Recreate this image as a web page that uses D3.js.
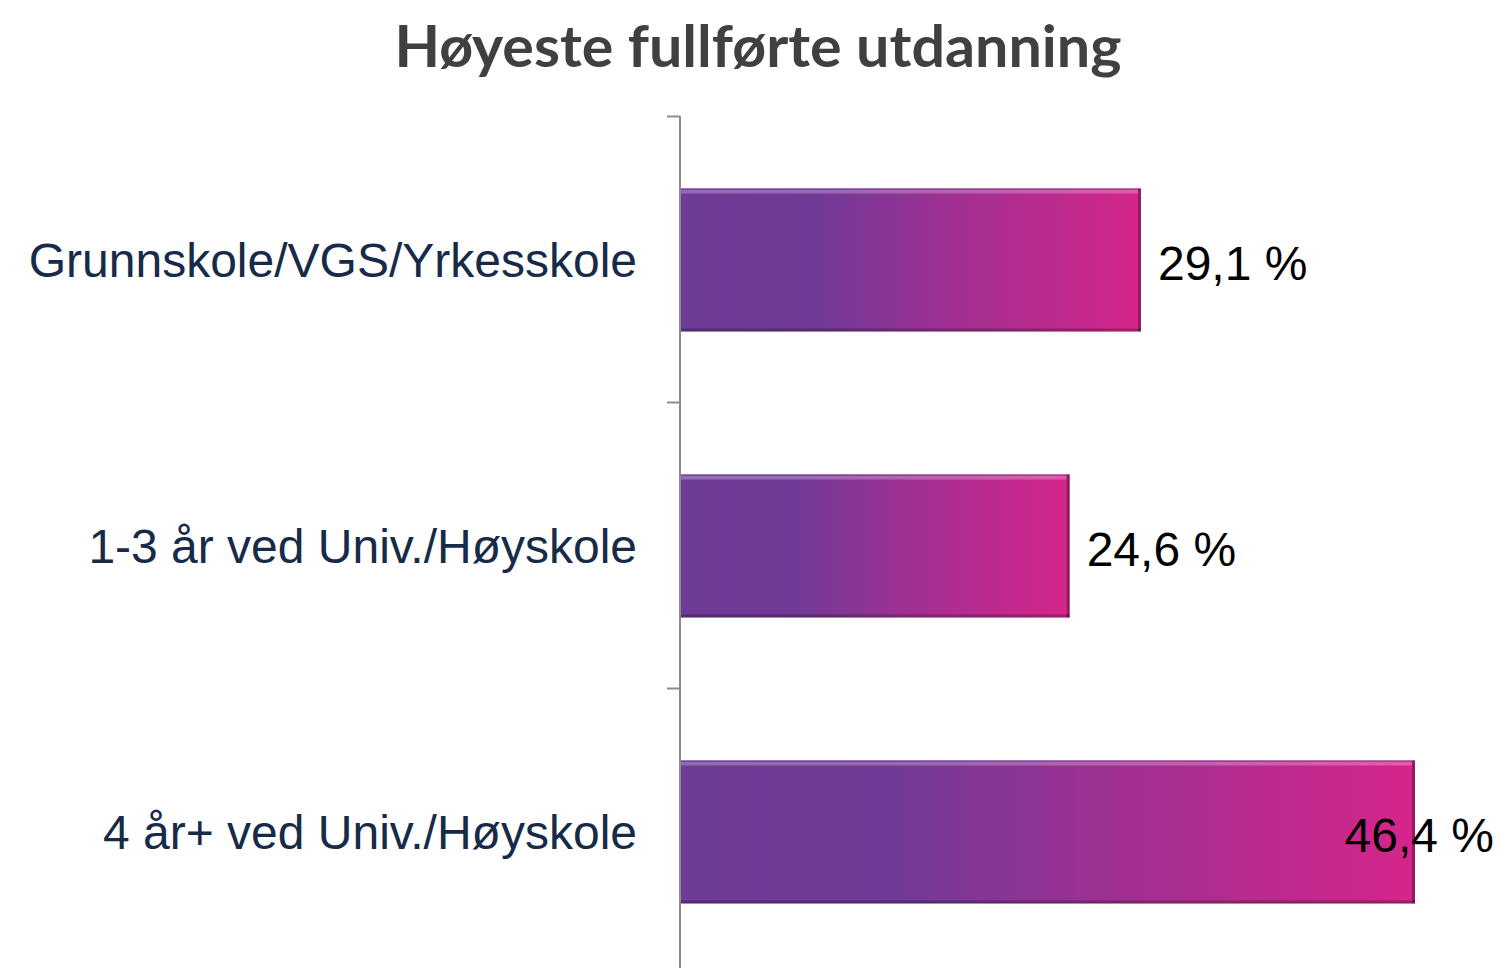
<!DOCTYPE html>
<html>
<head>
<meta charset="utf-8">
<script src="https://cdn.jsdelivr.net/npm/d3@7"></script>
<style>
  body { margin: 0; background: #fff; }
</style>
</head>
<body>
<svg width="1500" height="968"></svg>
<script>
// data
const categories = ["Grunnskole/VGS/Yrkesskole", "1-3 år ved Univ./Høyskole", "4 år+ ved Univ./Høyskole"];
const values = [29.1, 24.6, 46.4];
const valueLabels = ["29,1 %", "24,6 %", "46,4 %"];
const title = "Høyeste fullførte utdanning";

const svg = d3.select("svg");
const axisX = 680;

const x = d3.scaleLinear().domain([0, 50]).range([axisX, 1472]);
const y = d3.scaleBand().domain(categories).range([117, 975])
  .paddingInner(0.5).paddingOuter(0.25);

// gradient purple -> magenta
const defs = svg.append("defs");
const grad = defs.append("linearGradient").attr("id", "barGrad")
  .attr("x1", "0%").attr("x2", "100%").attr("y1", "0%").attr("y2", "0%");
[[0, "#6e3b97"], [0.3, "#723a98"], [0.6, "#a13092"], [1, "#d6258b"]].forEach(s =>
  grad.append("stop").attr("offset", s[0]).attr("stop-color", s[1]));

// title
svg.append("text")
  .attr("x", 758).attr("y", 67)
  .attr("text-anchor", "middle")
  .style("font", "bold 58px Lato, 'Open Sans', sans-serif")
  .style("fill", "#404040")
  .attr("textLength", 727)
  .attr("lengthAdjust", "spacingAndGlyphs")
  .text(title);

// bars
const bar = svg.selectAll(".bar").data(categories).enter()
  .append("g").attr("class", "bar");

bar.append("rect")
  .attr("x", axisX)
  .attr("y", d => y(d))
  .attr("width", (d, i) => x(values[i]) - axisX)
  .attr("height", y.bandwidth())
  .style("fill", "url(#barGrad)");

// bevel: light top edge, dark right and bottom edge
bar.append("rect")
  .attr("x", axisX).attr("y", d => y(d) + 1)
  .attr("width", (d, i) => x(values[i]) - axisX - 3)
  .attr("height", 4)
  .style("fill", "#fff").style("opacity", 0.25);
bar.append("rect")
  .attr("x", (d, i) => x(values[i]) - 3).attr("y", d => y(d))
  .attr("width", 3).attr("height", y.bandwidth())
  .style("fill", "#000").style("opacity", 0.3);
bar.append("rect")
  .attr("x", axisX).attr("y", d => y(d) + y.bandwidth() - 3)
  .attr("width", (d, i) => x(values[i]) - axisX)
  .attr("height", 3)
  .style("fill", "#000").style("opacity", 0.25);
bar.append("line")
  .attr("x1", axisX).attr("x2", (d, i) => x(values[i]))
  .attr("y1", d => y(d) + 0.5).attr("y2", d => y(d) + 0.5)
  .style("stroke", "#5a2c80").style("stroke-width", 1).style("opacity", 0.6);

// category axis
const axis = svg.append("g");
axis.append("line")
  .attr("x1", axisX).attr("x2", axisX)
  .attr("y1", 116).attr("y2", 968)
  .style("stroke", "#8c8c8c").style("stroke-width", 2);
const ticks = categories.map(d => y(d) - y.step() * y.paddingOuter()).concat([975]);
axis.selectAll(".tick").data(ticks).enter().append("line")
  .attr("x1", axisX - 13).attr("x2", axisX)
  .attr("y1", d => Math.round(d) - 0.5).attr("y2", d => Math.round(d) - 0.5)
  .style("stroke", "#8c8c8c").style("stroke-width", 2);

// category labels
svg.selectAll(".cat").data(categories).enter().append("text")
  .attr("x", 637)
  .attr("y", d => y(d) + y.bandwidth() / 2)
  .attr("dy", "0.35em")
  .attr("text-anchor", "end")
  .style("font", "48px 'Liberation Sans', Arial, sans-serif")
  .style("fill", "#172b49")
  .text(d => d);

// value labels - pushed back inside the chart when they'd run off the edge
svg.selectAll(".val").data(categories).enter().append("text")
  .attr("y", d => y(d) + y.bandwidth() / 2 + 3)
  .attr("dy", "0.35em")
  .style("font", "48px 'Liberation Sans', Arial, sans-serif")
  .style("fill", "#000")
  .text((d, i) => valueLabels[i])
  .attr("x", function (d, i) {
    const w = this.getComputedTextLength();
    return Math.min(x(values[i]) + 17, 1494 - w);
  });
</script>
</body>
</html>
